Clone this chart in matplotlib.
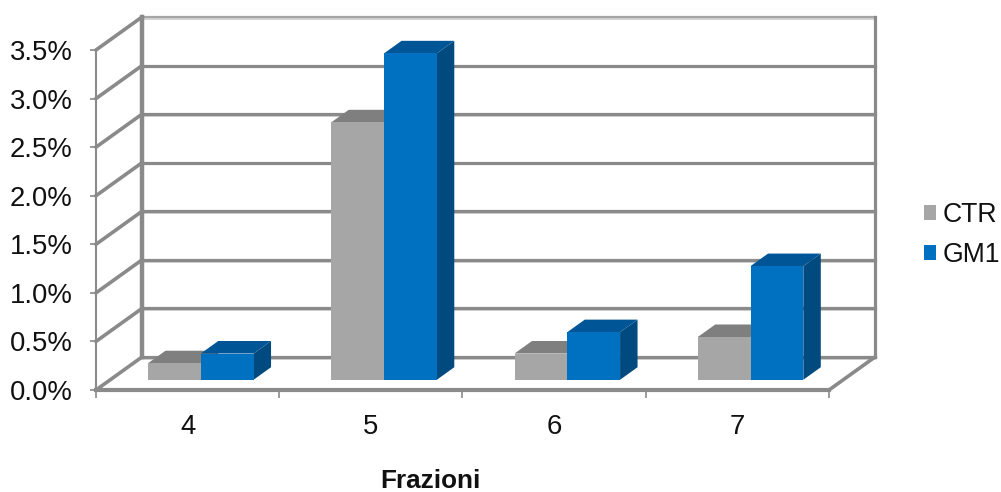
import matplotlib
matplotlib.use("Agg")
import matplotlib.pyplot as plt
from matplotlib.patches import Patch, Polygon

plt.rcParams["font.family"] = ["Liberation Sans", "DejaVu Sans"]

# Valori in percentuale per frazione
fractions = ["4", "5", "6", "7"]
ctr = [0.17, 2.65, 0.27, 0.44]
gm1 = [0.27, 3.36, 0.49, 1.17]
y_ticks = [0.0, 0.5, 1.0, 1.5, 2.0, 2.5, 3.0, 3.5]

W, H = 1001, 492
LEFT, RIGHT, BOTTOM, TOP = 96, 829, 390, 50

# Proiezione obliqua: spostamento del piano di fondo in unita dei dati
DEPTH_X = 46 / ((RIGHT - LEFT) / 4)
DEPTH_Y = 33 / ((BOTTOM - TOP) / 3.5)
BAR_W = 0.288
BAR_SHIFT = -0.006
D0, D1 = 0.31, 0.69

WALL = "#8a8a8a"
WALL_LIGHT = "#cccccc"
TEXT = "#111111"
FONT = 19.8


def proj(x, y, d):
    return x + d * DEPTH_X, y + d * DEPTH_Y


def draw_bar(ax, x0, value, front, top, side, z):
    x1 = x0 + BAR_W
    a = proj(x0, 0, D0)
    b = proj(x1, 0, D0)
    c = proj(x1, value, D0)
    e = proj(x0, value, D0)
    f = proj(x0, value, D1)
    g = proj(x1, value, D1)
    h = proj(x1, 0, D1)
    ax.add_patch(Polygon([b, h, g, c], fc=side, ec="none", zorder=z, clip_on=False))
    ax.add_patch(Polygon([e, c, g, f], fc=top, ec="none", zorder=z, clip_on=False))
    ax.add_patch(Polygon([a, b, c, e], fc=front, ec="none", zorder=z, clip_on=False))


fig = plt.figure(figsize=(W / 100, H / 100), dpi=100)
ax = fig.add_axes([LEFT / W, 1 - BOTTOM / H, (RIGHT - LEFT) / W, (BOTTOM - TOP) / H])
ax.set_xlim(0, 4)
ax.set_ylim(0, 3.5)
ax.patch.set_visible(False)

# griglia sulla parete di fondo e sulla parete laterale
for v in y_ticks:
    xb0, yb = proj(0, v, 1)
    xb1, _ = proj(4, v, 1)
    ax.plot([xb0, xb1], [yb - 0.018, yb - 0.018], color=WALL_LIGHT, lw=1.2, clip_on=False, zorder=1)
    lw = 1.6 if v == 3.5 else 2.3
    col = "#a6a6a6" if v == 3.5 else WALL
    ax.plot([xb0, xb1], [yb, yb], color=col, lw=lw, clip_on=False, zorder=1.1)
    ax.plot([0, xb0], [v, yb], color=WALL, lw=2.6, clip_on=False, zorder=1.2)

# spigoli verticali e pavimento
ax.plot([DEPTH_X, DEPTH_X], [DEPTH_Y, 3.5 + DEPTH_Y], color=WALL, lw=3.2, clip_on=False, zorder=1.3)
ax.plot([4 + DEPTH_X, 4 + DEPTH_X], [DEPTH_Y, 3.5 + DEPTH_Y], color=WALL, lw=2.3, clip_on=False, zorder=1.3)
ax.plot([4, 4 + DEPTH_X], [0, DEPTH_Y], color=WALL, lw=2.6, clip_on=False, zorder=1.3)

for i in range(len(fractions)):
    draw_bar(ax, i + 0.5 - BAR_W + BAR_SHIFT, ctr[i], "#a6a6a6", "#7f7f7f", "#6e6e6e", 2 + i)
    draw_bar(ax, i + 0.5 + BAR_SHIFT, gm1[i], "#0070c0", "#005596", "#004a80", 2.5 + i)

for side in ["top", "right"]:
    ax.spines[side].set_visible(False)
ax.spines["left"].set_color(WALL)
ax.spines["left"].set_linewidth(1.5)
ax.spines["bottom"].set_color(WALL)
ax.spines["bottom"].set_linewidth(3)
ax.spines["bottom"].set_zorder(1.4)

ax.set_yticks(y_ticks)
ax.set_yticklabels([f"{v:.1f}%" for v in y_ticks], fontsize=FONT, color=TEXT)
ax.tick_params(axis="y", length=4.5, width=1.2, color=WALL, pad=12.2)

ax.set_xticks(range(5))
ax.set_xticklabels([])
ax.set_xticks([i + 0.5 for i in range(4)], labels=fractions, minor=True)
ax.tick_params(axis="x", which="major", length=6, width=1.2, color=WALL)
ax.tick_params(axis="x", which="minor", length=0, labelsize=FONT, labelcolor=TEXT, pad=17)

ax.set_xlabel("Frazioni", fontsize=18.8, fontweight="bold", x=(430 - LEFT) / (RIGHT - LEFT),
              labelpad=21, color=TEXT)

handles = [Patch(fc="#a6a6a6", label="CTR"), Patch(fc="#0070c0", label="GM1")]
fig.legend(handles=handles, loc="center left", bbox_to_anchor=(924 / W, 1 - 235 / H), frameon=False,
           fontsize=19.2, handlelength=0.45, handleheight=0.45, handletextpad=0.25,
           labelspacing=0.52, borderpad=0, borderaxespad=0, labelcolor=TEXT)

fig.savefig("out.png", dpi=100)
